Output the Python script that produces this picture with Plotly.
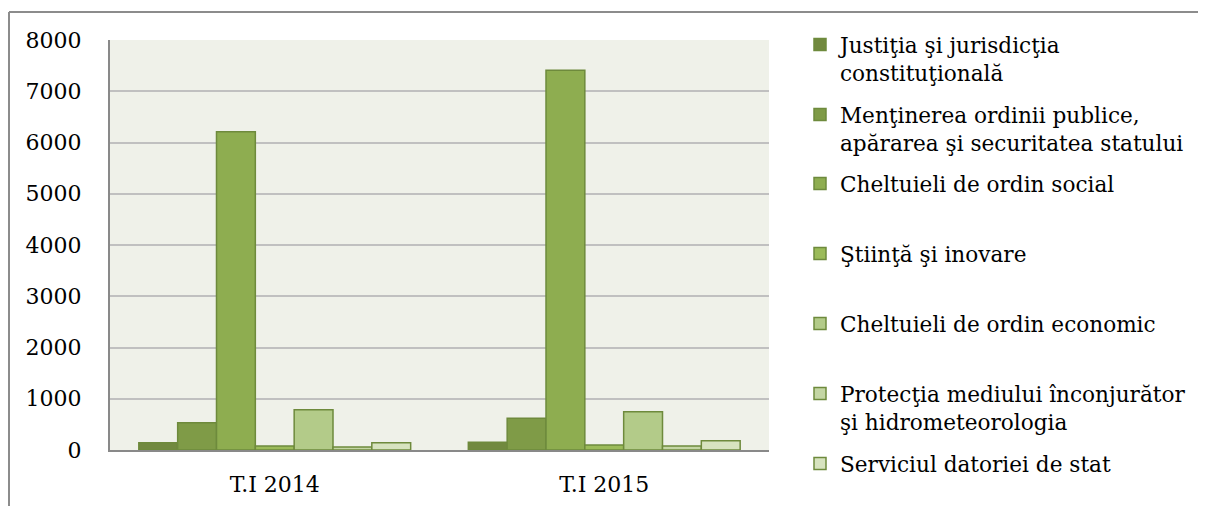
import plotly.graph_objects as go

categories = ["T.I 2014", "T.I 2015"]
series_names = [
    "Justiţia şi jurisdicţia<br>constituţională",
    "Menţinerea ordinii publice,<br>apărarea şi securitatea statului",
    "Cheltuieli de ordin social",
    "Ştiinţă şi inovare",
    "Cheltuieli de ordin economic",
    "Protecţia mediului înconjurător<br>şi hidrometeorologia",
    "Serviciul datoriei de stat",
]
justitia = [140, 150]
mentinerea = [530, 620]
social = [6210, 7410]
stiinta = [80, 100]
economic = [785, 745]
protectia = [60, 80]
serviciul = [140, 180]
series_values = [justitia, mentinerea, social, stiinta, economic, protectia, serviciul]
colors = ["#71893F", "#7F9B47", "#8EAD50", "#9BBB59", "#B3CB89", "#C4D6A4", "#D7E3BF"]
y_ticks = [0, 1000, 2000, 3000, 4000, 5000, 6000, 7000, 8000]

FONT = "DejaVu Serif"
OFF = 8  # page body margin
# plot area in screenshot pixels
L, R, T, B = 110, 769, 40, 450
W, H = 1206 - OFF, 506 - OFF

def py(p):
    return (B - p) / (B - T)

def px(p):
    return (p - L) / (R - L)

# legend item first-line centers (screenshot pixels)
leg_centers = [43, 113, 182, 252, 322, 392, 462]

fig = go.Figure()
for i, (name, vals, col) in enumerate(zip(series_names, series_values, colors)):
    lg = "legend" if i == 0 else f"legend{i+1}"
    fig.add_trace(go.Bar(
        x=categories, y=vals, name=name, legend=lg,
        marker=dict(color=col, line=dict(color="#6E8A3C", width=1.5)),
        hoverinfo="x+y+name",
    ))

legend_layout = {}
for i, c in enumerate(leg_centers):
    key = "legend" if i == 0 else f"legend{i+1}"
    legend_layout[key] = dict(
        x=px(800), xanchor="left",
        y=py(c - 19), yanchor="top",
        valign="top",
        font=dict(family=FONT, size=21.6, color="#000000"),
        bgcolor="rgba(0,0,0,0)",
        itemclick=False, itemdoubleclick=False,
    )

border = dict(color="#8C8C8C", width=2)
fig.update_layout(
    width=W, height=H, autosize=False,
    margin=dict(l=L - OFF, r=W - (R - OFF), t=T - OFF, b=H - (B - OFF), pad=0),
    paper_bgcolor="#FFFFFF",
    plot_bgcolor="#EFF1E9",
    barmode="group", bargap=0.175, bargroupgap=0,
    showlegend=True,
    font=dict(family=FONT, size=22, color="#000000"),
    xaxis=dict(
        type="category", showgrid=False, showline=True, linecolor="#898989", linewidth=2,
        ticks="", tickfont=dict(family=FONT, size=22), ticklabelstandoff=14, automargin=False,
    ),
    yaxis=dict(
        range=[0, 8000], tickvals=y_ticks, showgrid=True, gridcolor="#C0C0C0", gridwidth=1.5,
        showline=True, linecolor="#898989", linewidth=2, ticks="", zeroline=False,
        tickfont=dict(family=FONT, size=22), ticklabelstandoff=22, automargin=False,
    ),
    shapes=[
        dict(type="line", xref="paper", yref="paper",
             x0=px(9), x1=px(1260), y0=py(12), y1=py(12), line=border, layer="below"),
        dict(type="line", xref="paper", yref="paper",
             x0=px(9), x1=px(9), y0=py(12), y1=py(560), line=border, layer="below"),
    ],
    **legend_layout,
)

fig.write_html("out.html")
